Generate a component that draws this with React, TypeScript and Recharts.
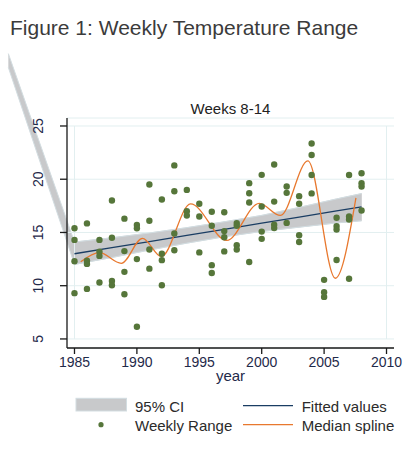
import React from 'react';
import {
  ComposedChart,
  XAxis,
  YAxis,
  CartesianGrid,
  ReferenceLine,
  Area,
  Scatter,
  Line,
  Legend,
} from 'recharts';

// weekly temperature range, weeks 8-14, one list of values per year
const years = [
  1985, 1986, 1987, 1988, 1989, 1990, 1991, 1992, 1993, 1994, 1995, 1996,
  1997, 1998, 1999, 2000, 2001, 2002, 2003, 2004, 2005, 2006, 2007, 2008,
];
const weeklyRange = [
  [15.4, 14.3, 12.3, 9.3],
  [15.85, 12.35, 12.05, 9.7],
  [14.3, 13.2, 12.8, 10.3],
  [18.0, 14.5, 10.45, 10.05],
  [16.3, 13.25, 11.3, 9.2],
  [15.7, 15.4, 12.5, 6.15],
  [19.5, 16.1, 13.4, 11.6],
  [18.1, 13.0, 12.4, 10.05],
  [21.3, 18.87, 14.9, 13.33],
  [19.0, 17.0, 16.6],
  [17.7, 16.5, 13.13],
  [16.95, 15.63, 11.93, 11.2],
  [16.9, 15.13, 14.55, 13.22],
  [15.88, 15.63, 13.8, 13.4],
  [19.63, 18.69, 17.82, 12.23],
  [20.41, 17.44, 15.08, 14.4],
  [21.38, 17.9, 15.72, 15.41],
  [19.31, 18.72, 15.9],
  [18.41, 17.69, 14.74, 14.11],
  [23.35, 22.28, 20.4, 18.67],
  [10.55, 9.38, 8.95],
  [16.38, 15.6, 15.28, 12.42],
  [20.4, 16.5, 16.22, 10.65],
  [20.56, 19.63, 19.31, 17.06],
];

// linear fit and its 95% CI
const fitYears = [1985, 1988, 1991, 1994, 1997, 2000, 2003, 2006, 2008];
const fitValues = [13.0, 13.57, 14.15, 14.72, 15.3, 15.87, 16.44, 17.02, 17.4];
const ciLow = [12.0, 12.65, 13.35, 14.0, 14.6, 15.1, 15.5, 15.9, 16.1];
const ciHigh = [14.1, 14.5, 14.95, 15.45, 16.0, 16.6, 17.35, 18.15, 18.65];

// stray CI vertex that Stata drew outside the plot region
const ciStrayYear = 1979.7;
const ciStrayLow = 30.5;
const ciStrayHigh = 31.8;

// median spline
const splineYears = [
  1985.5, 1987.0, 1988.75, 1990.45, 1991.95, 1994.3, 1997.2, 1999.8, 2001.5,
  2003.7, 2005.9, 2007.55,
];
const splineValues = [
  12.25, 13.1, 12.1, 14.45, 12.73, 17.68, 14.25, 17.73, 16.6, 21.72, 10.7, 18.25,
];

const xTicks = [1985, 1990, 1995, 2000, 2005, 2010];
const yTicks = [5, 10, 15, 20, 25];

const W = 414;
const H = 464;
const PLOT = { left: 67, right: 394, top: 118, bottom: 348 };
const X_DOMAIN = [1984.4, 2010.6];
const Y_DOMAIN = [4.15, 25.75];
const X_AXIS_H = 40;

const GREEN = '#56763a';
const NAVY = '#1a3d63';
const ORANGE = '#e8782e';
const BAND = '#c8c9cb';
const BAND_EDGE = '#d3dde1';
const GRID = '#e2eff0';
const AXIS = '#1a1a1a';
const TICK_TEXT = '#1f2a4a';
const FONT = '"Liberation Sans", Arial, sans-serif';

const scatterRows = years.flatMap((year, i) =>
  weeklyRange[i].map((range) => ({ year, range }))
);
const fitRows = fitYears.map((year, i) => ({ year, fit: fitValues[i] }));
const bandRows = fitYears.map((year, i) => ({ year, ci: [ciLow[i], ciHigh[i]] }));
const strayBandRows = [
  { year: ciStrayYear, ci: [ciStrayLow, ciStrayHigh] },
  ...bandRows,
];
const splineRows = splineYears.map((year, i) => ({ year, spline: splineValues[i] }));

// the background chart spans the whole picture with the same px/unit as the plot
const xPer = (PLOT.right - PLOT.left) / (X_DOMAIN[1] - X_DOMAIN[0]);
const yPer = (PLOT.bottom - PLOT.top) / (Y_DOMAIN[1] - Y_DOMAIN[0]);
const bgXDomain = [X_DOMAIN[0] - PLOT.left / xPer, X_DOMAIN[1] + (W - PLOT.right) / xPer];
const bgYDomain = [Y_DOMAIN[0] - (H - PLOT.bottom) / yPer, Y_DOMAIN[1] + PLOT.top / yPer];

const YTick = (props: any) => {
  const { x, y, payload } = props;
  const bx = x - 15;
  return (
    <text
      x={bx}
      y={y}
      transform={`rotate(-90 ${bx} ${y})`}
      textAnchor="middle"
      fill={TICK_TEXT}
      fontSize={14}
    >
      {payload.value}
    </text>
  );
};

const Dot = (props: any) => <circle cx={props.cx} cy={props.cy} r={3.2} fill={GREEN} />;

const LegendBox = () => (
  <svg width={W} height={44} style={{ display: 'block' }}>
    <rect x={76} y={6.3} width={50.5} height={12.7} fill={BAND} stroke={BAND_EDGE} strokeWidth={1} />
    <text x={135} y={19.7} fontSize={15} fill="#2b2b2b">95% CI</text>
    <line x1={243} x2={293} y1={13.7} y2={13.7} stroke={NAVY} strokeWidth={1.3} />
    <text x={301.7} y={19.7} fontSize={15} fill="#2b2b2b">Fitted values</text>
    <circle cx={101} cy={32.7} r={2.6} fill={GREEN} />
    <text x={135} y={38.7} fontSize={15} fill="#2b2b2b">Weekly Range</text>
    <line x1={243} x2={293} y1={32.7} y2={32.7} stroke={ORANGE} strokeWidth={1.3} />
    <text x={301.7} y={38.7} fontSize={15} fill="#2b2b2b">Median spline</text>
  </svg>
);

export default function App() {
  return (
    <div
      style={{
        position: 'absolute',
        left: 0,
        top: 0,
        width: W,
        height: H,
        background: '#fff',
        fontFamily: FONT,
        overflow: 'hidden',
      }}
    >
      <div
        style={{
          position: 'absolute',
          left: 10,
          top: 17,
          fontSize: 21,
          lineHeight: '21px',
          color: '#3b3b3b',
          whiteSpace: 'nowrap',
        }}
      >
        Figure 1: Weekly Temperature Range
      </div>

      {/* CI band including the stray vertex left of the axis */}
      <div style={{ position: 'absolute', left: 0, top: 0 }}>
        <ComposedChart width={W} height={H} margin={{ top: 0, right: 0, bottom: 0, left: 0 }}>
          <XAxis hide dataKey="year" type="number" domain={bgXDomain} />
          <YAxis hide type="number" domain={bgYDomain} />
          <Area
            data={strayBandRows}
            dataKey="ci"
            type="linear"
            fill={BAND}
            fillOpacity={1}
            stroke={BAND_EDGE}
            strokeWidth={1}
            dot={false}
            activeDot={false}
            isAnimationActive={false}
          />
        </ComposedChart>
      </div>

      <div style={{ position: 'absolute', left: 0, top: 0 }}>
        <ComposedChart
          width={W}
          height={H}
          margin={{ top: PLOT.top, right: W - PLOT.right, bottom: H - PLOT.bottom - X_AXIS_H, left: 0 }}
        >
          <CartesianGrid stroke={GRID} vertical={false} fill="none" />
          {[xTicks[0], xTicks[xTicks.length - 1]].map((v) => (
            <ReferenceLine
              key={v}
              segment={[
                { x: v, y: yTicks[0] },
                { x: v, y: yTicks[yTicks.length - 1] },
              ]}
              stroke={GRID}
            />
          ))}
          <XAxis
            dataKey="year"
            type="number"
            domain={X_DOMAIN}
            ticks={xTicks}
            height={X_AXIS_H}
            tickSize={6}
            tickMargin={3}
            axisLine={{ stroke: AXIS, strokeWidth: 1.3 }}
            tickLine={{ stroke: AXIS, strokeWidth: 1.3 }}
            tick={{ fill: TICK_TEXT, fontSize: 14 }}
            label={{ value: 'year', position: 'insideBottom', offset: 7, fill: TICK_TEXT, fontSize: 15 }}
          />
          <YAxis
            type="number"
            domain={Y_DOMAIN}
            ticks={yTicks}
            width={PLOT.left}
            tickSize={7}
            axisLine={{ stroke: AXIS, strokeWidth: 1.3 }}
            tickLine={{ stroke: AXIS, strokeWidth: 1.3 }}
            tick={<YTick />}
          />
          <Area
            data={bandRows}
            dataKey="ci"
            type="linear"
            fill={BAND}
            fillOpacity={1}
            stroke={BAND_EDGE}
            strokeWidth={1}
            dot={false}
            activeDot={false}
            isAnimationActive={false}
          />
          <Scatter data={scatterRows} dataKey="range" shape={<Dot />} isAnimationActive={false} />
          <Line
            data={fitRows}
            dataKey="fit"
            type="linear"
            stroke={NAVY}
            strokeWidth={1.3}
            dot={false}
            activeDot={false}
            isAnimationActive={false}
          />
          <Line
            data={splineRows}
            dataKey="spline"
            type="monotone"
            stroke={ORANGE}
            strokeWidth={1.3}
            dot={false}
            activeDot={false}
            isAnimationActive={false}
          />
          <Legend
            layout="horizontal"
            verticalAlign="middle"
            align="center"
            wrapperStyle={{ left: 0, top: 392, width: W }}
            content={() => <LegendBox />}
          />
        </ComposedChart>
      </div>

      <div
        style={{
          position: 'absolute',
          left: PLOT.left,
          width: PLOT.right - PLOT.left,
          top: 100.6,
          fontSize: 15,
          lineHeight: '15px',
          color: '#222',
          textAlign: 'center',
        }}
      >
        Weeks 8-14
      </div>
    </div>
  );
}
